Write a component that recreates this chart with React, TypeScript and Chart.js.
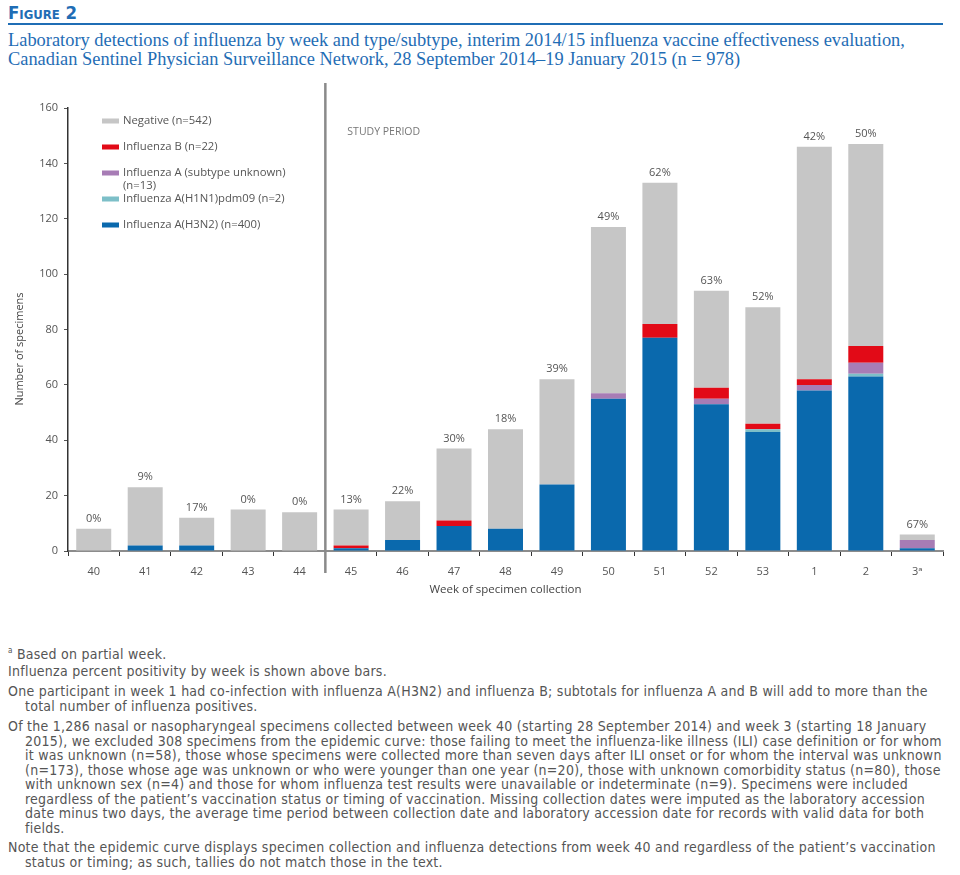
import React, { useEffect, useRef } from 'react';
import { Chart, registerables } from 'chart.js';

Chart.register(...registerables);

// ---- data ----
const weeks = ['40', '41', '42', '43', '44', '45', '46', '47', '48', '49', '50', '51', '52', '53', '1', '2', '3ᵃ'];
const h3n2 = [0, 2, 2, 0, 0, 1, 4, 9, 8, 24, 55, 77, 53, 43, 58, 63, 1];
const h1n1 = [0, 0, 0, 0, 0, 0, 0, 0, 0, 0, 0, 0, 0, 1, 0, 1, 0];
const aUnknown = [0, 0, 0, 0, 0, 0, 0, 0, 0, 0, 2, 0, 2, 0, 2, 4, 3];
const fluB = [0, 0, 0, 0, 0, 1, 0, 2, 0, 0, 0, 5, 4, 2, 2, 6, 0];
const negative = [8, 21, 10, 15, 14, 13, 14, 26, 36, 38, 60, 51, 35, 42, 84, 73, 2];
const positivity = ['0%', '9%', '17%', '0%', '0%', '13%', '22%', '30%', '18%', '39%', '49%', '62%', '63%', '52%', '42%', '50%', '67%'];
const seriesLabels = [
  'Influenza A(H3N2) (n=400)',
  'Influenza A(H1N1)pdm09 (n=2)',
  'Influenza A (subtype unknown) (n=13)',
  'Influenza B (n=22)',
  'Negative (n=542)',
];
// legend as drawn (top to bottom), each entry may wrap to 2 lines
const legendRows = [
  ['Negative (n=542)'],
  ['Influenza B (n=22)'],
  ['Influenza A (subtype unknown)', '(n=13)'],
  ['Influenza A(H1N1)pdm09 (n=2)'],
  ['Influenza A(H3N2) (n=400)'],
];
const studyStartIndex = 5; // week 45
const yMax = 160;
const yStep = 20;

const COLORS = {
  h3n2: '#0a69ad',
  h1n1: '#7dbfc8',
  aUnknown: '#a77cb5',
  fluB: '#e20a17',
  negative: '#c6c6c6',
};
const legendColors = [COLORS.negative, COLORS.fluB, COLORS.aUnknown, COLORS.h1n1, COLORS.h3n2];

const CHART_FONT = '"Open Sans", "DejaVu Sans", sans-serif';
const NOTE_FONT = '"DejaVu Sans Condensed", "Liberation Sans Narrow", sans-serif';

const decorPlugin = {
  id: 'decor',
  afterDraw(chart: any) {
    const { ctx, chartArea } = chart;
    const xs = chart.scales.x;
    const topMeta = chart.getDatasetMeta(chart.data.datasets.length - 1);
    ctx.save();
    // percent labels
    ctx.font = `11px ${CHART_FONT}`;
    ctx.fillStyle = '#555';
    ctx.textAlign = 'center';
    ctx.textBaseline = 'middle';
    topMeta.data.forEach((bar: any, i: number) => {
      ctx.fillText(positivity[i], bar.x, bar.y - 10);
    });
    // study period divider
    const xDiv = (xs.getPixelForValue(studyStartIndex - 1) + xs.getPixelForValue(studyStartIndex)) / 2;
    ctx.strokeStyle = '#8a8a8a';
    ctx.lineWidth = 2.5;
    ctx.beginPath();
    ctx.moveTo(xDiv, 3);
    ctx.lineTo(xDiv, chartArea.bottom + 22);
    ctx.stroke();
    ctx.font = `10.5px ${CHART_FONT}`;
    ctx.fillStyle = '#777';
    ctx.textAlign = 'left';
    ctx.fillText('STUDY PERIOD', xDiv + 22, 52);
    // legend
    ctx.font = `11.3px ${CHART_FONT}`;
    let y = 41;
    legendRows.forEach((rows, i) => {
      ctx.fillStyle = legendColors[i];
      ctx.fillRect(chartArea.left + 34, y - 2.5, 17, 5);
      ctx.fillStyle = '#555';
      rows.forEach((t, j) => ctx.fillText(t, chartArea.left + 55, y + j * 13));
      y += 26;
    });
    // y title
    ctx.translate(20, 269);
    ctx.rotate(-Math.PI / 2);
    ctx.textAlign = 'center';
    ctx.fillStyle = '#444';
    ctx.font = `11px ${CHART_FONT}`;
    ctx.fillText('Number of specimens', 0, 0);
    ctx.restore();
  },
};

function BarChart() {
  const ref = useRef<HTMLCanvasElement>(null);
  useEffect(() => {
    if (!ref.current) return;
    const mk = (label: string, data: number[], color: string) => ({
      label,
      data,
      backgroundColor: color,
      borderWidth: 0,
      barPercentage: 0.68,
      categoryPercentage: 1,
    });
    const chart = new Chart(ref.current, {
      type: 'bar',
      data: {
        labels: weeks,
        datasets: [
          mk(seriesLabels[0], h3n2, COLORS.h3n2),
          mk(seriesLabels[1], h1n1, COLORS.h1n1),
          mk(seriesLabels[2], aUnknown, COLORS.aUnknown),
          mk(seriesLabels[3], fluB, COLORS.fluB),
          mk(seriesLabels[4], negative, COLORS.negative),
        ],
      },
      options: {
        responsive: false,
        animation: false,
        events: [],
        layout: { padding: { top: 28, right: 17, left: 0, bottom: 0 } },
        plugins: { legend: { display: false }, tooltip: { enabled: false } },
        scales: {
          x: {
            stacked: true,
            offset: true,
            grid: { offset: true, drawOnChartArea: false, drawTicks: true, tickLength: 5, color: '#333', lineWidth: 1 },
            border: { color: '#8c8c8c', width: 2 },
            ticks: { color: '#555', font: { family: CHART_FONT, size: 11 }, padding: 9, maxRotation: 0, autoSkip: false },
            title: {
              display: true,
              text: 'Week of specimen collection',
              color: '#444',
              font: { family: CHART_FONT, size: 11.5 },
              padding: { top: 0, bottom: 3 },
            },
            afterFit: (s: any) => { s.height = 49; },
          },
          y: {
            stacked: true,
            min: 0,
            max: yMax,
            grid: { drawOnChartArea: false, drawTicks: true, tickLength: 4, color: '#555' },
            border: { color: '#333', width: 1.5 },
            ticks: { stepSize: yStep, color: '#555', font: { family: CHART_FONT, size: 11 }, padding: 6 },
            afterFit: (s: any) => { s.width = 68; },
          },
        },
      },
      plugins: [decorPlugin],
    });
    return () => chart.destroy();
  }, []);
  return (
    <canvas
      ref={ref}
      width={960}
      height={520}
      style={{ position: 'absolute', left: 0, top: 80, width: 960, height: 520 }}
    />
  );
}

const noteP: React.CSSProperties = {
  position: 'absolute',
  left: 8,
  margin: 0,
  paddingLeft: 17,
  textIndent: -17,
  whiteSpace: 'nowrap',
  lineHeight: '14.5px',
};

export default function App() {
  useEffect(() => {
    document.body.style.margin = '0';
  }, []);
  return (
    <div style={{ position: 'relative', width: 960, height: 875, background: '#fff', overflow: 'hidden' }}>
      <div
        style={{
          position: 'absolute', left: 8, top: 3, color: '#1f6db5', fontWeight: 'bold',
          fontVariant: 'small-caps', fontFamily: '"Liberation Sans Narrow", "DejaVu Sans Condensed", sans-serif',
          fontSize: 18.5, lineHeight: '20px',
        }}
      >
        Figure 2
      </div>
      <div style={{ position: 'absolute', left: 8, top: 23, width: 935, height: 2, background: '#1f6db5' }} />
      <div
        style={{
          position: 'absolute', left: 8, top: 31, color: '#1f6db5',
          fontFamily: '"Liberation Serif", "DejaVu Serif", serif', fontSize: 18.4, lineHeight: '18.5px',
          whiteSpace: 'nowrap',
        }}
      >
        Laboratory detections of influenza by week and type/subtype, interim 2014/15 influenza vaccine effectiveness evaluation,
        <br />
        Canadian Sentinel Physician Surveillance Network, 28 September 2014–19 January 2015 (n = 978)
      </div>
      <BarChart />
      <div style={{ position: 'absolute', left: 0, top: 0, width: 960, fontFamily: NOTE_FONT, fontSize: 14, letterSpacing: '0.25px', color: '#555' }}>
        <p style={{ ...noteP, top: 644 }}>
          <sup style={{ fontSize: 8 }}>a</sup> Based on partial week.
        </p>
        <p style={{ ...noteP, top: 664 }}>Influenza percent positivity by week is shown above bars.</p>
        <p style={{ ...noteP, top: 684 }}>
          One participant in week 1 had co-infection with influenza A(H3N2) and influenza B; subtotals for influenza A and B will add to more than the
          <br />
          total number of influenza positives.
        </p>
        <p style={{ ...noteP, top: 719 }}>
          Of the 1,286 nasal or nasopharyngeal specimens collected between week 40 (starting 28 September 2014) and week 3 (starting 18 January
          <br />
          2015), we excluded 308 specimens from the epidemic curve: those failing to meet the influenza-like illness (ILI) case definition or for whom
          <br />
          it was unknown (n=58), those whose specimens were collected more than seven days after ILI onset or for whom the interval was unknown
          <br />
          (n=173), those whose age was unknown or who were younger than one year (n=20), those with unknown comorbidity status (n=80), those
          <br />
          with unknown sex (n=4) and those for whom influenza test results were unavailable or indeterminate (n=9). Specimens were included
          <br />
          regardless of the patient’s vaccination status or timing of vaccination. Missing collection dates were imputed as the laboratory accession
          <br />
          date minus two days, the average time period between collection date and laboratory accession date for records with valid data for both
          <br />
          fields.
        </p>
        <p style={{ ...noteP, top: 840 }}>
          Note that the epidemic curve displays specimen collection and influenza detections from week 40 and regardless of the patient’s vaccination
          <br />
          status or timing; as such, tallies do not match those in the text.
        </p>
      </div>
    </div>
  );
}
